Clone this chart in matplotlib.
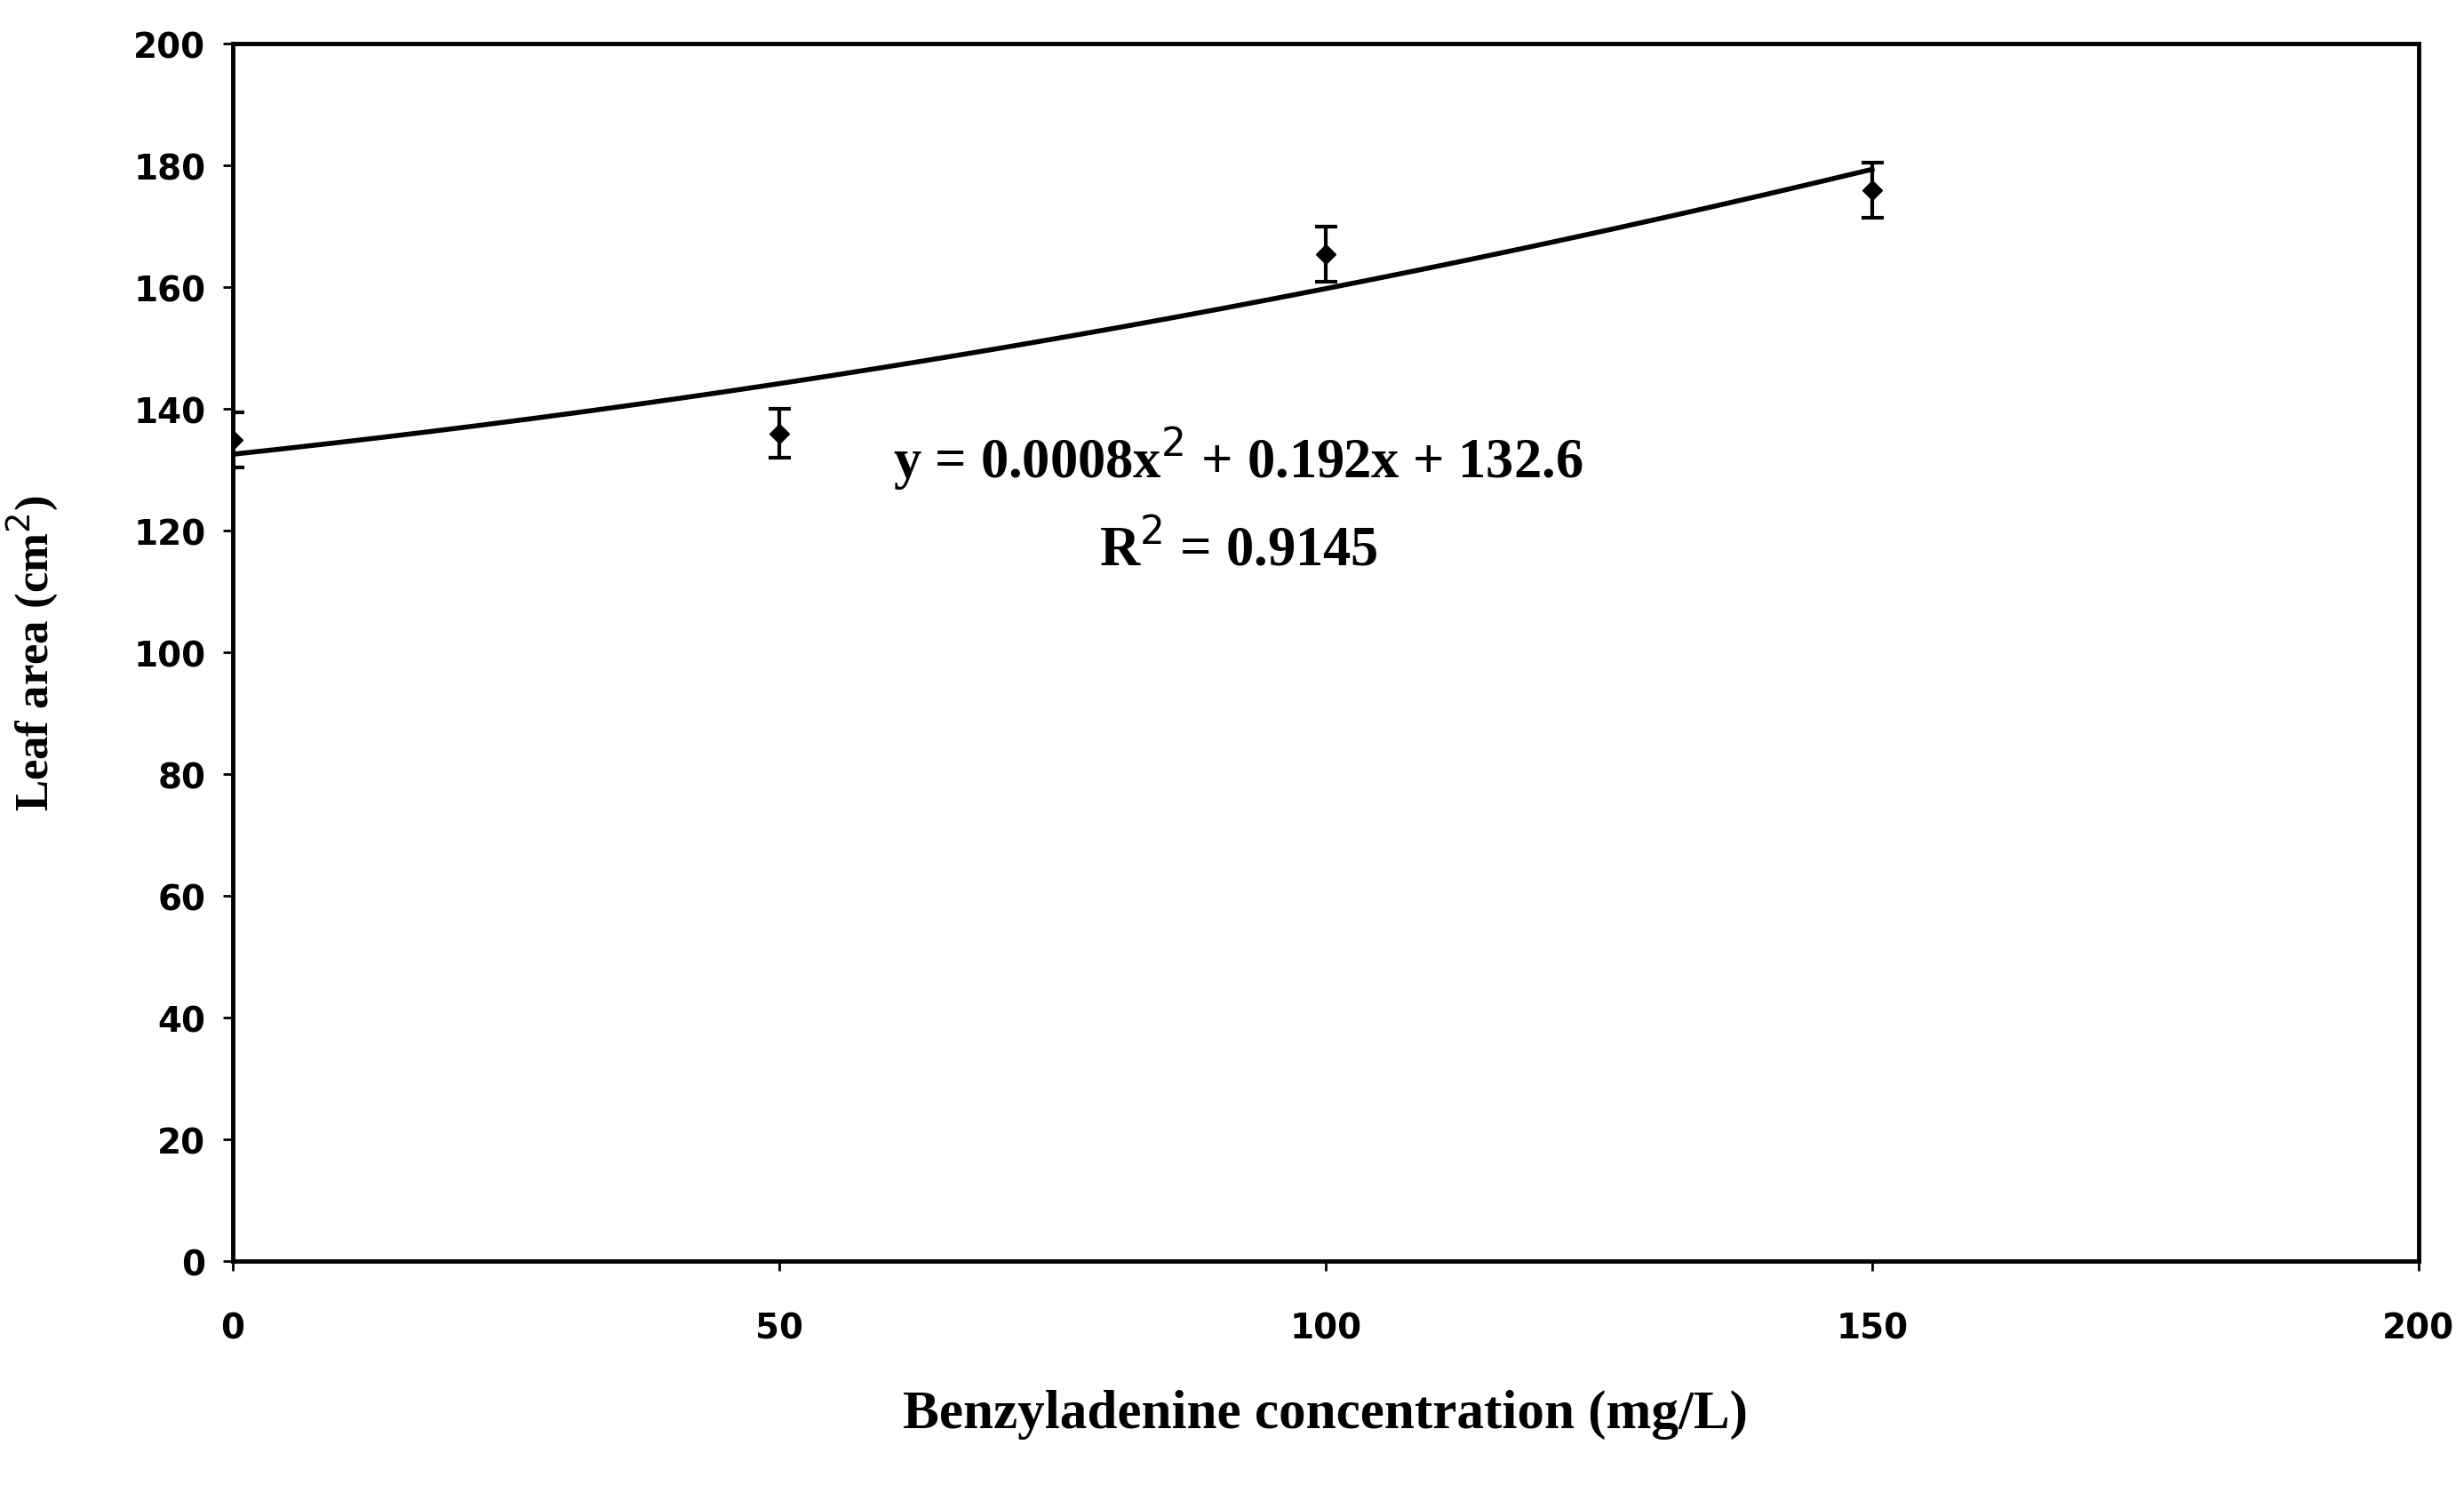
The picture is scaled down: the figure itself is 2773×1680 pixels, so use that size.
import numpy as np
from matplotlib import pyplot as plt

# Benzyladenine dose vs leaf area
concentration = [0, 50, 100, 150]
leaf_area = [135, 136, 165.5, 176]
leaf_area_err = [4.5, 4.0, 4.5, 4.5]

# quadratic trendline printed on the chart
fit_coefs = [0.0008, 0.192, 132.6]
fit_text = "y = 0.0008x$^2$ + 0.192x + 132.6"
r2_text = "R$^2$ = 0.9145"

x_ticks = [0, 50, 100, 150, 200]
y_ticks = list(range(0, 201, 20))

fig = plt.figure(figsize=(27.73, 16.81), dpi=100)
ax = fig.add_axes([0.0945, 0.155, 0.887, 0.815])

# trendline
xs = np.linspace(0, 150, 200)
ax.plot(xs, np.polyval(fit_coefs, xs), color="black", lw=4)

# points with error bars
ax.errorbar(concentration, leaf_area, yerr=leaf_area_err, fmt="D", color="black",
            markersize=11, ecolor="black", elinewidth=3, capsize=9, capthick=3)

ax.set_xlim(0, 200)
ax.set_ylim(0, 200)
ax.set_xticks(x_ticks)
ax.set_yticks(y_ticks)

for side in ["top", "right", "bottom", "left"]:
    ax.spines[side].set_linewidth(3.5)
    ax.spines[side].set_color("black")

ax.tick_params(axis="both", direction="out", length=8, width=2, labelsize=28)
ax.tick_params(axis="x", pad=32)
ax.tick_params(axis="y", pad=14)
for lbl in ax.get_xticklabels() + ax.get_yticklabels():
    lbl.set_fontweight("bold")
    lbl.set_family("DejaVu Sans")

ax.set_xlabel("Benzyladenine concentration (mg/L)", fontsize=44, fontweight="bold",
              family="Liberation Serif", labelpad=36)
ax.set_ylabel("Leaf area (cm$^2$)", fontsize=38, fontweight="bold",
              family="Liberation Serif", labelpad=60)

ax.text(92, 132, fit_text, fontsize=45, fontweight="bold", family="Liberation Serif",
        ha="center", va="center")
ax.text(92, 117, r2_text, fontsize=45, fontweight="bold", family="Liberation Serif",
        ha="center", va="center")

fig.savefig("out.png", dpi=100)
